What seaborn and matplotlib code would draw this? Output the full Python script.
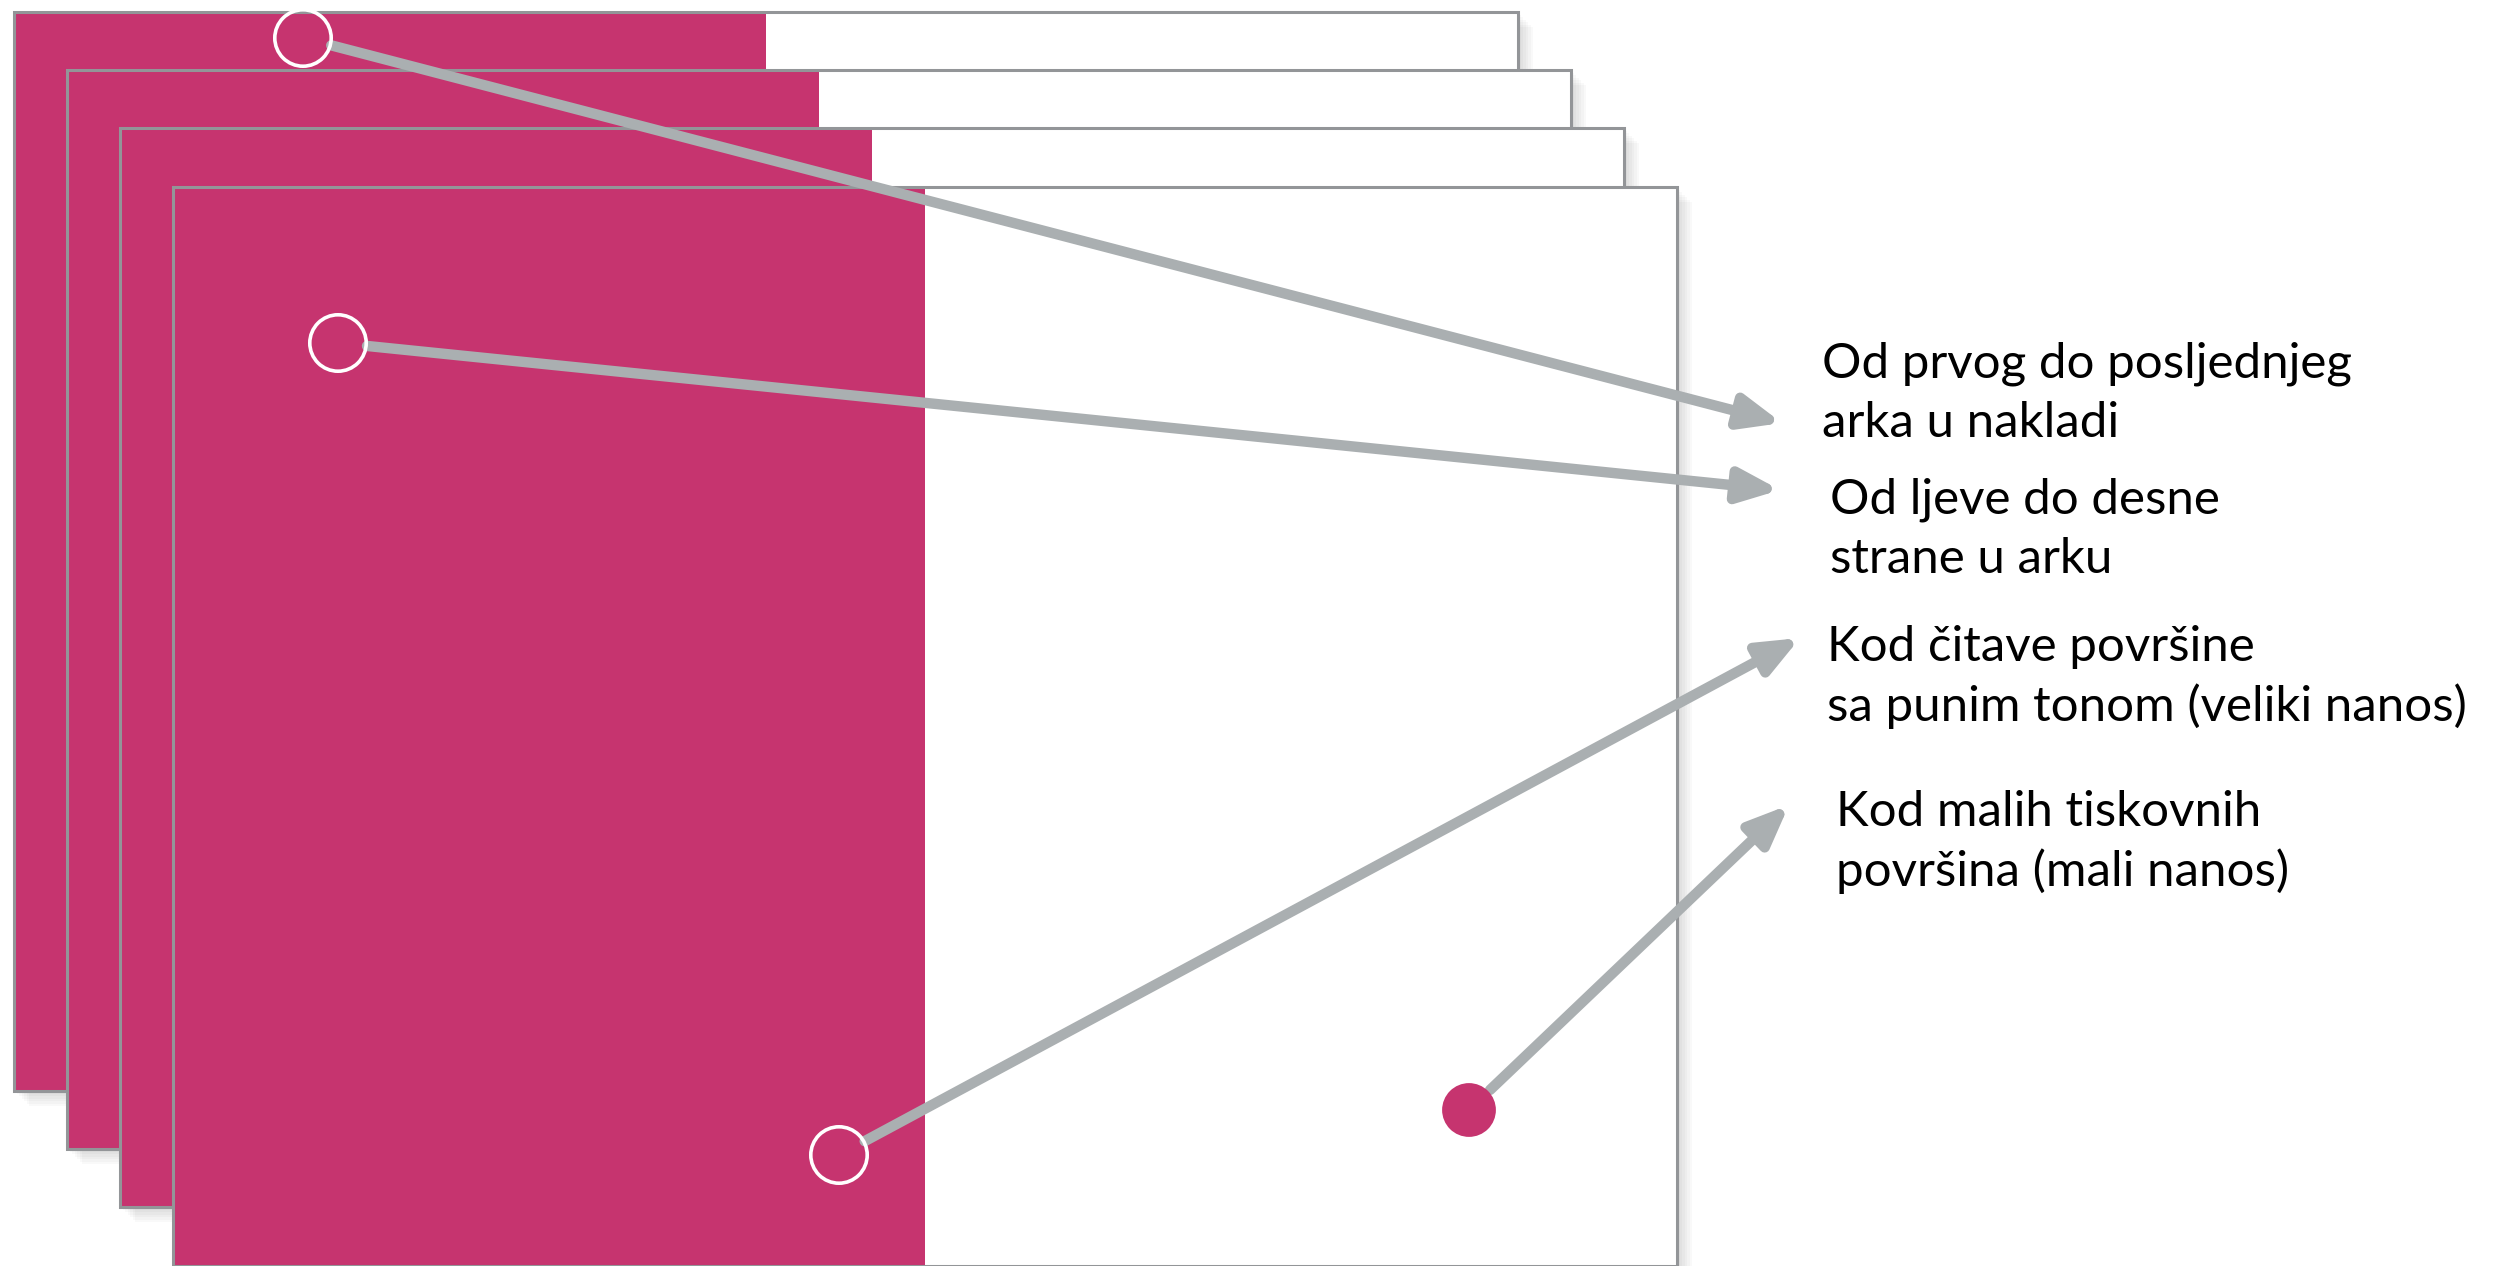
import numpy as np
import pandas as pd
import matplotlib.pyplot as plt
from matplotlib.patches import Rectangle
import seaborn as sns

# stacked press sheets, back to front (canvas pixels, y grows downward)
sheet_left = [14, 67, 120, 173]
sheet_top = [12, 70, 128, 187]
SHEET_W, SHEET_H = 1504, 1079

# hollow ring markers and the one filled dot
ring_x = [303, 338, 839]
ring_y = [38, 343, 1155]
dot_x = [1469]
dot_y = [1110]

# arrows: start (marker centre) -> tip
arrow_from_x = [303, 338, 839, 1469]
arrow_from_y = [38, 343, 1155, 1110]
arrow_to_x = [1782, 1780, 1800, 1789]
arrow_to_y = [423, 490, 638, 805]

labels = [
    "Od prvog do posljednjeg\narka u nakladi",
    "Od ljeve do desne\nstrane u arku",
    "Kod čitave površine\nsa punim tonom (veliki nanos)",
    "Kod malih tiskovnih\npovršina (mali nanos)",
]
label_x = [1822, 1830, 1827, 1836]
label_y = [377, 513, 661, 826]  # baseline of first line

PINK = "#C6346F"
BORDER = "#939598"
ARROW = "#AAAFB1"

sns.set_theme(style="white")
plt.rcParams['font.family'] = ['Lato', 'DejaVu Sans']

fig = plt.figure(figsize=(25, 12.66), dpi=100)
ax = fig.add_axes([0, 0, 1, 1])

z = 1
for left, top in zip(sheet_left, sheet_top):
    # soft drop shadow
    for k in range(1, 7):
        ax.add_patch(Rectangle((left + 2.5 * k, top + 2.5 * k), SHEET_W, SHEET_H,
                               facecolor='black', edgecolor='none', alpha=0.025, zorder=z))
    z += 1
    ax.add_patch(Rectangle((left, top), SHEET_W, SHEET_H, facecolor='white',
                           edgecolor='none', zorder=z))
    ax.add_patch(Rectangle((left, top), SHEET_W / 2, SHEET_H, facecolor=PINK,
                           edgecolor='none', zorder=z + 0.5))
    ax.add_patch(Rectangle((left, top), SHEET_W, SHEET_H, facecolor='none',
                           edgecolor=BORDER, lw=2.2, zorder=z + 0.6))
    z += 1

for x0, y0, x1, y1 in zip(arrow_from_x, arrow_from_y, arrow_to_x, arrow_to_y):
    ax.annotate('', xy=(x1, y1), xytext=(x0, y0),
                arrowprops=dict(arrowstyle='-|>,head_length=2.4,head_width=1.0',
                                color=ARROW, lw=7.5, shrinkA=21, shrinkB=0,
                                mutation_scale=10),
                zorder=20)

rings = pd.DataFrame({'x': ring_x, 'y': ring_y})
dots = pd.DataFrame({'x': dot_x, 'y': dot_y})
sns.scatterplot(data=rings, x='x', y='y', s=1650, facecolor='none',
                edgecolor='white', linewidth=2.6, ax=ax, zorder=21)
sns.scatterplot(data=dots, x='x', y='y', s=1500, color=PINK,
                edgecolor='none', linewidth=0, ax=ax, zorder=21)
ax.set_xlim(0, 2500)
ax.set_ylim(1266, 0)
ax.axis('off')

for text, x, y in zip(labels, label_x, label_y):
    for i, line in enumerate(text.split('\n')):
        ax.text(x, y + i * 60, line, fontsize=35.5, color='black',
                ha='left', va='baseline', zorder=30)

fig.savefig('out.png', dpi=100)
